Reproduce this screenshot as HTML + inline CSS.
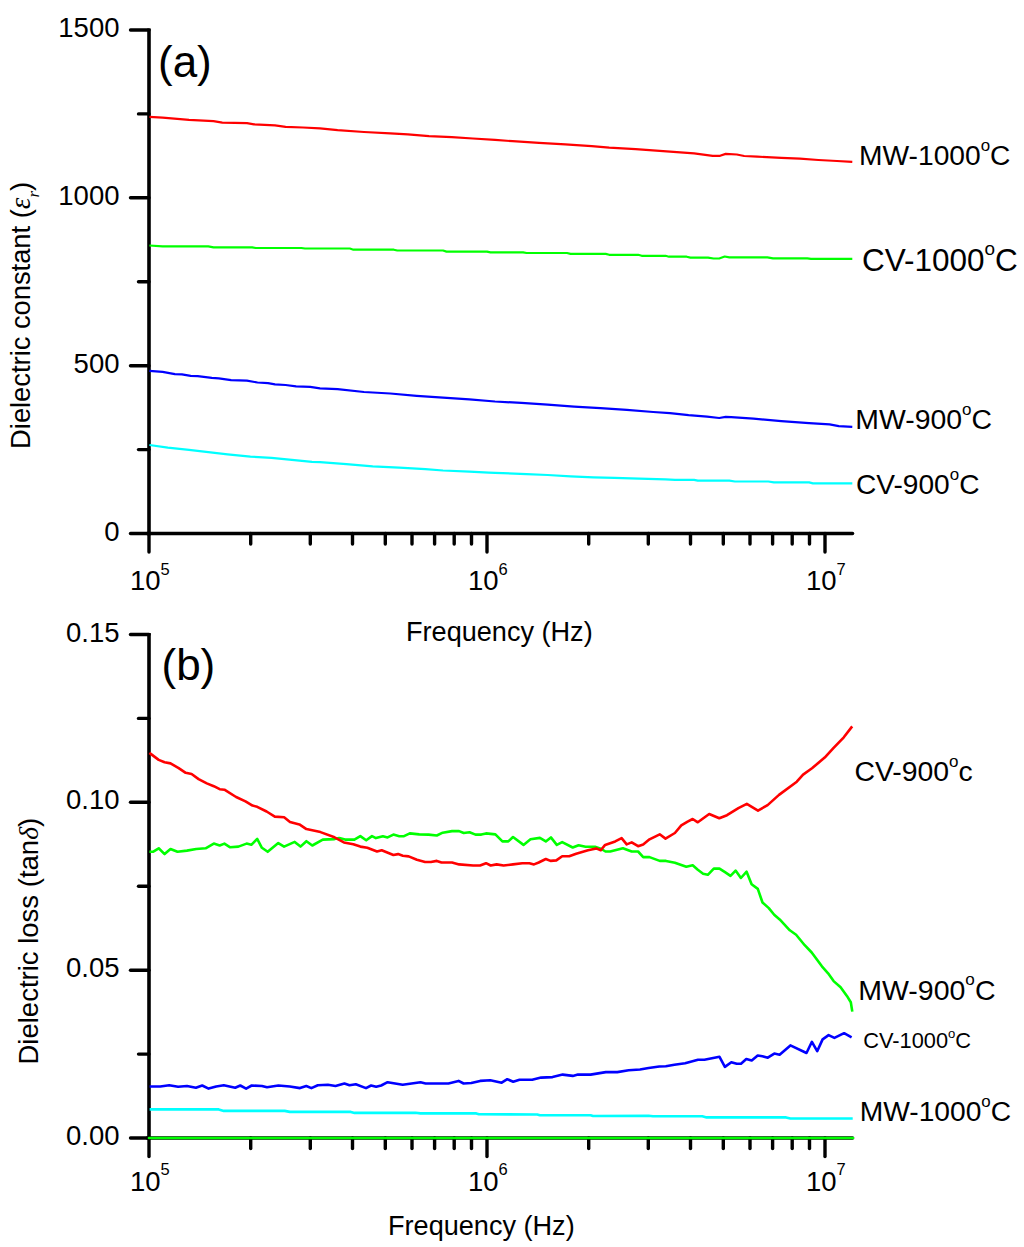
<!DOCTYPE html>
<html><head><meta charset="utf-8"><style>
html,body{margin:0;padding:0;background:#fff;}
svg{display:block;}
text{font-family:"Liberation Sans",sans-serif;fill:#000;}
</style></head><body>
<svg width="1024" height="1247" viewBox="0 0 1024 1247">
<rect width="1024" height="1247" fill="#fff"/>
<line x1="149.0" y1="28.4" x2="149.0" y2="535.3" stroke="#000" stroke-width="3.6"/>
<line x1="147.2" y1="533.5" x2="852.5" y2="533.5" stroke="#000" stroke-width="3.6" stroke-linecap="round"/>
<line x1="130.5" y1="30.0" x2="149.0" y2="30.0" stroke="#000" stroke-width="3.4" stroke-linecap="round"/>
<line x1="130.5" y1="197.8" x2="149.0" y2="197.8" stroke="#000" stroke-width="3.4" stroke-linecap="round"/>
<line x1="130.5" y1="365.7" x2="149.0" y2="365.7" stroke="#000" stroke-width="3.4" stroke-linecap="round"/>
<line x1="130.5" y1="533.5" x2="149.0" y2="533.5" stroke="#000" stroke-width="3.4" stroke-linecap="round"/>
<line x1="138.5" y1="113.9" x2="149.0" y2="113.9" stroke="#000" stroke-width="3.4" stroke-linecap="round"/>
<line x1="138.5" y1="281.8" x2="149.0" y2="281.8" stroke="#000" stroke-width="3.4" stroke-linecap="round"/>
<line x1="138.5" y1="449.6" x2="149.0" y2="449.6" stroke="#000" stroke-width="3.4" stroke-linecap="round"/>
<line x1="149.0" y1="533.5" x2="149.0" y2="552.0" stroke="#000" stroke-width="3.4" stroke-linecap="round"/>
<line x1="250.7" y1="533.5" x2="250.7" y2="544.0" stroke="#000" stroke-width="3.4" stroke-linecap="round"/>
<line x1="310.3" y1="533.5" x2="310.3" y2="544.0" stroke="#000" stroke-width="3.4" stroke-linecap="round"/>
<line x1="352.5" y1="533.5" x2="352.5" y2="544.0" stroke="#000" stroke-width="3.4" stroke-linecap="round"/>
<line x1="385.3" y1="533.5" x2="385.3" y2="544.0" stroke="#000" stroke-width="3.4" stroke-linecap="round"/>
<line x1="412.0" y1="533.5" x2="412.0" y2="544.0" stroke="#000" stroke-width="3.4" stroke-linecap="round"/>
<line x1="434.6" y1="533.5" x2="434.6" y2="544.0" stroke="#000" stroke-width="3.4" stroke-linecap="round"/>
<line x1="454.2" y1="533.5" x2="454.2" y2="544.0" stroke="#000" stroke-width="3.4" stroke-linecap="round"/>
<line x1="471.5" y1="533.5" x2="471.5" y2="544.0" stroke="#000" stroke-width="3.4" stroke-linecap="round"/>
<line x1="487.0" y1="533.5" x2="487.0" y2="552.0" stroke="#000" stroke-width="3.4" stroke-linecap="round"/>
<line x1="588.7" y1="533.5" x2="588.7" y2="544.0" stroke="#000" stroke-width="3.4" stroke-linecap="round"/>
<line x1="648.3" y1="533.5" x2="648.3" y2="544.0" stroke="#000" stroke-width="3.4" stroke-linecap="round"/>
<line x1="690.5" y1="533.5" x2="690.5" y2="544.0" stroke="#000" stroke-width="3.4" stroke-linecap="round"/>
<line x1="723.3" y1="533.5" x2="723.3" y2="544.0" stroke="#000" stroke-width="3.4" stroke-linecap="round"/>
<line x1="750.0" y1="533.5" x2="750.0" y2="544.0" stroke="#000" stroke-width="3.4" stroke-linecap="round"/>
<line x1="772.6" y1="533.5" x2="772.6" y2="544.0" stroke="#000" stroke-width="3.4" stroke-linecap="round"/>
<line x1="792.2" y1="533.5" x2="792.2" y2="544.0" stroke="#000" stroke-width="3.4" stroke-linecap="round"/>
<line x1="809.5" y1="533.5" x2="809.5" y2="544.0" stroke="#000" stroke-width="3.4" stroke-linecap="round"/>
<line x1="825.0" y1="533.5" x2="825.0" y2="552.0" stroke="#000" stroke-width="3.4" stroke-linecap="round"/>
<text x="119.5" y="37.0" text-anchor="end" font-size="27.5">1500</text>
<text x="119.5" y="204.8" text-anchor="end" font-size="27.5">1000</text>
<text x="119.5" y="372.7" text-anchor="end" font-size="27.5">500</text>
<text x="119.5" y="540.5" text-anchor="end" font-size="27.5">0</text>
<text x="130.0" y="590" font-size="27.5">10</text>
<text x="160.5" y="574.5" font-size="16.5">5</text>
<text x="468.0" y="590" font-size="27.5">10</text>
<text x="498.5" y="574.5" font-size="16.5">6</text>
<text x="806.0" y="590" font-size="27.5">10</text>
<text x="836.5" y="574.5" font-size="16.5">7</text>
<polyline points="149.4,116.8 162.6,117.7 189.0,119.9 213.5,121.2 222.3,122.6 247.0,123.1 254.0,124.3 275.0,125.4 285.6,126.8 303.0,127.5 320.0,128.4 337.6,130.2 364.0,132.0 390.3,133.4 407.9,134.4 429.0,136.2 451.8,137.2 472.9,138.5 495.0,139.8 512.6,141.2 539.0,142.9 565.3,144.3 591.7,146.1 609.2,147.7 635.6,149.1 670.0,151.7 694.1,153.4 712.7,155.8 720.1,155.8 725.7,153.9 736.8,154.5 744.2,156.0 757.2,156.7 781.3,157.8 799.9,158.7 818.4,160.0 837.0,161.0 852.3,161.9" fill="none" stroke="#ff0000" stroke-width="2.2" stroke-linejoin="round"/>
<polyline points="149.4,245.5 162.6,246.4 208.3,246.4 213.5,247.3 252.2,247.3 255.7,248.0 301.4,248.0 305.0,248.5 349.9,248.5 353.4,249.7 393.8,249.7 397.3,250.5 443.0,250.5 446.5,251.6 487.0,251.6 490.5,252.4 523.1,252.4 526.6,253.0 567.0,253.0 570.6,253.9 605.7,253.9 609.2,254.8 638.2,254.8 641.7,255.8 665.5,255.8 669.0,256.7 686.7,256.7 690.4,257.6 708.0,257.6 713.6,258.5 719.2,258.5 724.7,256.5 729.4,257.4 767.4,257.4 773.0,258.4 807.3,258.4 811.0,258.9 852.3,258.9" fill="none" stroke="#00ff00" stroke-width="2.2" stroke-linejoin="round"/>
<polyline points="149.4,370.9 162.6,371.8 174.9,374.1 181.9,374.4 190.7,375.8 197.7,376.2 211.8,377.9 218.8,378.3 231.1,380.2 246.9,380.7 257.5,382.5 268.0,383.2 275.0,384.3 285.6,385.0 296.1,386.4 310.2,386.9 320.0,388.3 337.6,389.1 364.0,392.0 390.3,393.5 416.7,395.8 443.0,397.6 469.4,399.3 495.0,401.5 521.4,402.9 547.7,404.7 574.1,406.6 600.4,408.2 626.8,409.9 653.2,412.0 670.0,413.2 688.6,415.2 707.1,416.7 719.2,418.0 725.7,416.9 731.2,417.2 753.5,418.7 781.3,421.1 809.1,423.2 829.6,424.3 838.8,426.1 852.3,426.9" fill="none" stroke="#0000ff" stroke-width="2.2" stroke-linejoin="round"/>
<polyline points="149.4,445.0 167.8,447.7 189.0,449.9 208.3,452.2 227.6,454.3 250.4,456.6 271.5,457.8 294.4,460.1 312.0,461.9 320.0,462.2 346.4,464.1 372.7,466.4 399.1,467.7 425.4,469.1 443.0,470.5 469.4,471.7 488.7,472.6 495.0,472.9 526.6,474.1 547.7,475.0 570.6,476.4 593.4,477.3 614.5,477.8 639.1,478.7 665.5,479.4 675.0,479.8 694.1,479.8 697.8,480.6 729.4,480.6 734.9,481.5 768.3,481.5 773.9,482.4 809.1,482.4 812.9,483.4 852.3,483.4" fill="none" stroke="#00ffff" stroke-width="2.2" stroke-linejoin="round"/>
<line x1="149.0" y1="632.9" x2="149.0" y2="1139.8" stroke="#000" stroke-width="3.6"/>
<line x1="147.2" y1="1138.0" x2="852.5" y2="1138.0" stroke="#000" stroke-width="3.6" stroke-linecap="round"/>
<line x1="130.5" y1="634.5" x2="149.0" y2="634.5" stroke="#000" stroke-width="3.4" stroke-linecap="round"/>
<line x1="130.5" y1="802.3" x2="149.0" y2="802.3" stroke="#000" stroke-width="3.4" stroke-linecap="round"/>
<line x1="130.5" y1="970.2" x2="149.0" y2="970.2" stroke="#000" stroke-width="3.4" stroke-linecap="round"/>
<line x1="130.5" y1="1138.0" x2="149.0" y2="1138.0" stroke="#000" stroke-width="3.4" stroke-linecap="round"/>
<line x1="138.5" y1="718.4" x2="149.0" y2="718.4" stroke="#000" stroke-width="3.4" stroke-linecap="round"/>
<line x1="138.5" y1="886.2" x2="149.0" y2="886.2" stroke="#000" stroke-width="3.4" stroke-linecap="round"/>
<line x1="138.5" y1="1054.1" x2="149.0" y2="1054.1" stroke="#000" stroke-width="3.4" stroke-linecap="round"/>
<line x1="149.0" y1="1138.0" x2="149.0" y2="1156.5" stroke="#000" stroke-width="3.4" stroke-linecap="round"/>
<line x1="250.7" y1="1138.0" x2="250.7" y2="1148.5" stroke="#000" stroke-width="3.4" stroke-linecap="round"/>
<line x1="310.3" y1="1138.0" x2="310.3" y2="1148.5" stroke="#000" stroke-width="3.4" stroke-linecap="round"/>
<line x1="352.5" y1="1138.0" x2="352.5" y2="1148.5" stroke="#000" stroke-width="3.4" stroke-linecap="round"/>
<line x1="385.3" y1="1138.0" x2="385.3" y2="1148.5" stroke="#000" stroke-width="3.4" stroke-linecap="round"/>
<line x1="412.0" y1="1138.0" x2="412.0" y2="1148.5" stroke="#000" stroke-width="3.4" stroke-linecap="round"/>
<line x1="434.6" y1="1138.0" x2="434.6" y2="1148.5" stroke="#000" stroke-width="3.4" stroke-linecap="round"/>
<line x1="454.2" y1="1138.0" x2="454.2" y2="1148.5" stroke="#000" stroke-width="3.4" stroke-linecap="round"/>
<line x1="471.5" y1="1138.0" x2="471.5" y2="1148.5" stroke="#000" stroke-width="3.4" stroke-linecap="round"/>
<line x1="487.0" y1="1138.0" x2="487.0" y2="1156.5" stroke="#000" stroke-width="3.4" stroke-linecap="round"/>
<line x1="588.7" y1="1138.0" x2="588.7" y2="1148.5" stroke="#000" stroke-width="3.4" stroke-linecap="round"/>
<line x1="648.3" y1="1138.0" x2="648.3" y2="1148.5" stroke="#000" stroke-width="3.4" stroke-linecap="round"/>
<line x1="690.5" y1="1138.0" x2="690.5" y2="1148.5" stroke="#000" stroke-width="3.4" stroke-linecap="round"/>
<line x1="723.3" y1="1138.0" x2="723.3" y2="1148.5" stroke="#000" stroke-width="3.4" stroke-linecap="round"/>
<line x1="750.0" y1="1138.0" x2="750.0" y2="1148.5" stroke="#000" stroke-width="3.4" stroke-linecap="round"/>
<line x1="772.6" y1="1138.0" x2="772.6" y2="1148.5" stroke="#000" stroke-width="3.4" stroke-linecap="round"/>
<line x1="792.2" y1="1138.0" x2="792.2" y2="1148.5" stroke="#000" stroke-width="3.4" stroke-linecap="round"/>
<line x1="809.5" y1="1138.0" x2="809.5" y2="1148.5" stroke="#000" stroke-width="3.4" stroke-linecap="round"/>
<line x1="825.0" y1="1138.0" x2="825.0" y2="1156.5" stroke="#000" stroke-width="3.4" stroke-linecap="round"/>
<text x="119.5" y="641.5" text-anchor="end" font-size="27.5">0.15</text>
<text x="119.5" y="809.3" text-anchor="end" font-size="27.5">0.10</text>
<text x="119.5" y="977.2" text-anchor="end" font-size="27.5">0.05</text>
<text x="119.5" y="1145.0" text-anchor="end" font-size="27.5">0.00</text>
<text x="130.0" y="1190.5" font-size="27.5">10</text>
<text x="160.5" y="1175.0" font-size="16.5">5</text>
<text x="468.0" y="1190.5" font-size="27.5">10</text>
<text x="498.5" y="1175.0" font-size="16.5">6</text>
<text x="806.0" y="1190.5" font-size="27.5">10</text>
<text x="836.5" y="1175.0" font-size="16.5">7</text>
<polyline points="149.6,1109.4 218.7,1109.4 223.8,1110.9 284.7,1110.9 289.8,1111.9 350.8,1111.9 354.6,1112.9 415.4,1112.7 420.5,1113.4 476.3,1113.4 478.9,1114.2 537.3,1114.5 539.8,1115.2 590.6,1115.2 593.1,1116.0 648.6,1115.7 652.9,1116.3 702.3,1116.3 706.6,1117.4 786.1,1117.4 790.4,1118.5 852.7,1118.5" fill="none" stroke="#00ffff" stroke-width="2.6" stroke-linejoin="round"/>
<polyline points="149.6,1086.5 160.3,1086.5 169.2,1085.3 178.1,1086.8 187.0,1086.0 195.9,1087.8 202.2,1085.5 208.6,1088.6 216.2,1086.5 223.8,1085.3 235.2,1087.8 240.3,1085.5 246.1,1088.6 251.7,1085.5 261.9,1086.0 267.0,1087.3 278.4,1085.5 289.8,1086.5 300.0,1088.1 306.3,1086.0 311.4,1088.1 317.8,1085.3 327.9,1084.8 335.5,1086.0 344.4,1083.5 349.5,1085.3 355.8,1084.2 366.0,1088.1 371.1,1085.5 376.2,1086.8 381.2,1085.5 387.6,1082.2 402.7,1084.8 420.5,1082.2 425.6,1083.5 448.4,1083.5 458.6,1080.9 463.6,1083.5 471.3,1083.0 480.1,1080.9 490.3,1080.2 501.7,1082.7 507.3,1079.2 513.2,1081.7 519.5,1079.7 532.2,1079.7 541.1,1077.6 552.5,1077.1 562.7,1074.6 572.8,1075.9 577.9,1074.6 590.6,1074.6 605.8,1072.1 617.3,1072.1 628.7,1070.3 640.0,1069.5 648.6,1068.0 659.3,1066.5 665.8,1066.3 674.4,1064.8 685.1,1063.3 698.0,1059.8 704.4,1059.8 719.5,1056.8 724.9,1066.9 731.3,1062.2 736.7,1063.7 741.0,1063.7 746.3,1059.0 751.7,1060.5 757.7,1055.5 762.4,1056.2 767.8,1057.7 774.3,1053.6 779.6,1054.7 790.4,1045.4 806.5,1053.0 811.9,1041.8 817.2,1051.2 822.6,1039.4 828.6,1035.1 834.4,1037.9 844.1,1033.2 851.6,1037.3" fill="none" stroke="#0000ff" stroke-width="2.6" stroke-linejoin="round"/>
<polyline points="149.4,851.8 152.9,851.8 158.7,848.3 164.6,854.1 170.5,849.0 177.5,851.8 186.9,850.6 196.2,849.0 205.6,848.3 213.8,843.6 219.7,845.5 224.4,843.6 230.2,847.3 238.4,846.6 246.6,843.6 251.3,844.8 257.2,838.9 261.9,847.8 267.7,851.8 278.3,843.1 284.1,846.6 294.7,841.9 300.5,846.6 306.4,841.2 312.3,845.5 322.8,839.6 334.5,839.1 339.2,838.0 345.1,839.6 354.4,839.6 360.3,836.1 366.2,840.3 372.0,836.1 375.9,838.1 382.9,836.2 387.6,837.4 393.4,834.6 399.3,836.2 404.0,836.2 409.8,833.4 419.2,834.4 428.6,834.6 436.8,835.5 442.7,832.7 452.0,831.1 459.1,831.1 463.7,833.0 469.6,832.3 475.5,834.6 481.3,834.6 486.0,833.4 495.4,834.4 502.4,841.4 508.3,841.4 513.0,837.0 523.5,844.9 530.5,839.3 539.9,837.9 545.8,841.4 550.9,837.4 556.8,844.9 562.2,842.1 572.7,847.5 578.6,845.2 585.6,846.8 595.0,846.8 600.8,848.7 605.5,851.5 610.2,851.5 622.9,848.2 631.7,851.5 638.1,851.5 643.2,857.1 649.5,857.1 659.7,860.9 666.0,860.9 674.9,862.7 686.3,866.8 692.7,865.2 697.8,869.8 703.1,873.8 707.8,874.8 713.8,868.6 719.5,868.6 725.0,872.2 730.5,875.9 735.6,870.6 740.9,878.0 746.6,871.7 751.6,884.2 757.8,888.9 762.5,902.5 768.8,908.1 774.2,914.7 779.7,919.4 785.2,925.3 789.8,930.3 796.1,934.7 804.7,945.2 811.7,952.5 821.9,966.3 828.1,973.3 833.6,981.1 840.6,987.3 846.9,995.9 850.8,1002.2 852.3,1011.6" fill="none" stroke="#00ff00" stroke-width="2.6" stroke-linejoin="round"/>
<polyline points="149.4,752.9 158.7,759.9 164.6,762.3 170.5,763.4 178.7,768.1 185.7,772.8 191.6,774.0 198.6,779.1 206.8,783.4 213.8,786.2 219.7,789.2 224.4,789.7 236.1,797.0 245.5,801.4 252.5,805.6 257.2,806.8 266.6,811.5 274.8,816.6 284.1,817.3 290.0,822.0 299.4,824.4 306.4,829.1 320.5,832.1 334.5,837.3 343.9,842.4 353.3,844.3 360.3,846.6 367.3,847.8 377.0,851.5 381.7,850.3 393.4,855.0 398.1,854.1 402.8,855.7 408.7,856.4 416.9,859.7 425.1,862.0 430.9,862.0 436.8,860.9 441.5,862.5 452.0,862.5 459.1,864.4 473.1,865.5 480.1,865.5 486.0,863.2 490.7,865.5 496.6,864.4 503.6,865.5 513.0,864.4 522.3,863.2 529.4,863.2 534.0,864.4 538.7,862.5 545.8,859.0 550.5,860.9 556.3,860.4 562.2,856.2 569.2,856.2 576.2,853.8 588.0,850.3 596.2,848.4 600.8,850.3 605.1,844.9 615.2,841.4 621.6,838.1 626.7,844.4 631.7,842.4 638.1,846.2 643.2,844.4 649.5,839.3 659.7,834.3 665.5,838.6 674.9,833.0 681.3,825.4 687.6,821.6 692.7,819.0 697.8,822.3 709.2,814.0 719.3,818.3 727.0,815.2 738.4,808.1 746.8,803.8 758.0,810.7 767.6,805.1 779.0,794.9 796.8,781.7 803.1,774.6 812.0,768.2 824.7,757.6 833.6,747.9 843.8,737.3 852.2,726.4" fill="none" stroke="#ff0000" stroke-width="2.6" stroke-linejoin="round"/>
<line x1="149.0" y1="1138" x2="853" y2="1138" stroke="#00ff00" stroke-width="2.6" stroke-linecap="round"/>
<text x="859" y="164.6" font-size="28.2">MW-1000<tspan font-size="16.9" dy="-14.1">o</tspan><tspan dy="14.1">C</tspan></text>
<text x="862" y="270.8" font-size="31.5">CV-1000<tspan font-size="18.9" dy="-15.8">o</tspan><tspan dy="15.8">C</tspan></text>
<text x="855.3" y="429.2" font-size="28.4">MW-900<tspan font-size="17.0" dy="-14.2">o</tspan><tspan dy="14.2">C</tspan></text>
<text x="856" y="494.3" font-size="28.1">CV-900<tspan font-size="16.9" dy="-14.1">o</tspan><tspan dy="14.1">C</tspan></text>
<text x="854.4" y="781" font-size="28.4">CV-900<tspan font-size="17.0" dy="-14.2">o</tspan><tspan dy="14.2">c</tspan></text>
<text x="858.2" y="999.5" font-size="28.5">MW-900<tspan font-size="17.1" dy="-14.2">o</tspan><tspan dy="14.2">C</tspan></text>
<text x="863.2" y="1048.4" font-size="21.8">CV-1000<tspan font-size="13.1" dy="-10.9">o</tspan><tspan dy="10.9">C</tspan></text>
<text x="859.7" y="1120.8" font-size="28.2">MW-1000<tspan font-size="16.9" dy="-14.1">o</tspan><tspan dy="14.1">C</tspan></text>
<text x="158" y="77" font-size="44">(a)</text>
<text x="161.5" y="679.7" font-size="44">(b)</text>
<text x="406" y="641.2" font-size="27.1">Frequency (Hz)</text>
<text x="388" y="1234.7" font-size="27.1">Frequency (Hz)</text>
<text transform="translate(29.7 448.9) rotate(-90)" font-size="27.3">Dielectric constant (<tspan font-family="Liberation Serif" font-style="italic" font-size="29.5">ε</tspan><tspan font-family="Liberation Serif" font-style="italic" font-size="17" dy="9">r</tspan><tspan dy="-9">)</tspan></text>
<text transform="translate(37.7 1064.5) rotate(-90)" font-size="27.5">Dielectric loss (tan<tspan font-family="Liberation Serif" font-style="italic">δ</tspan>)</text>
</svg>
</body></html>
